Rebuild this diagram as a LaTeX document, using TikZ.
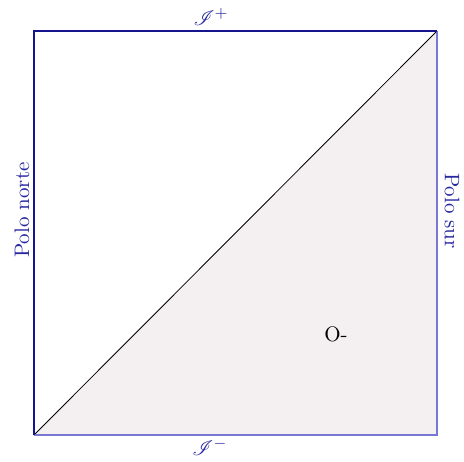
\documentclass[tikz,border=0pt]{standalone}
\usepackage{mathrsfs}
\definecolor{navyb}{RGB}{20,20,140}
\definecolor{lightb}{RGB}{120,120,210}
\definecolor{txtb}{RGB}{40,40,160}
\definecolor{regionfill}{RGB}{244,239,241}
\begin{document}
\begin{tikzpicture}[x=0.476pt,y=-0.476pt,
  edgeA/.style={draw=navyb,line width=1pt},
  edgeB/.style={draw=lightb,line width=0.8pt},
  lbl/.style={text=txtb,inner sep=1pt}]
\useasboundingbox (0,0) rectangle (464,462);
\coordinate (tl) at (34,31);
\coordinate (tr) at (437,31);
\coordinate (bl) at (34,435);
\coordinate (br) at (437,435);
\fill[fill=regionfill] (bl) -- (tr) -- (br) -- cycle;
\draw[black,line width=0.4pt] (bl) -- (tr);
\draw[edgeB] (tr) -- (br) -- (bl);
\draw[edgeA] (bl) -- (tl) -- (tr);
\node[lbl] (scrip) at (211,17) {$\mathscr{I}^+$};
\node[lbl] (scrim) at (210,447) {$\mathscr{I}^-$};
\node[lbl,rotate=90] (pn) at (22,210) {Polo norte};
\node[lbl,rotate=-90] (ps) at (452,211) {Polo sur};
\node[inner sep=2pt] (o) at (336,334) {O-};
\end{tikzpicture}
\end{document}
